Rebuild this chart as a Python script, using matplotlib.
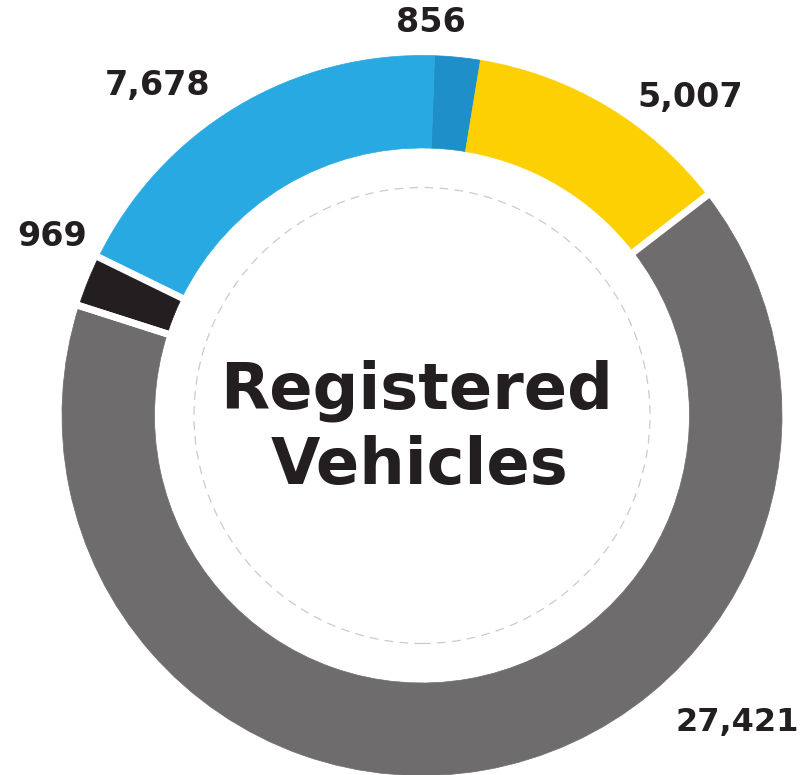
import matplotlib
matplotlib.use("Agg")
import matplotlib.pyplot as plt
from matplotlib.patches import Circle
import numpy as np

# Data (clockwise from top)
labels = ["856", "5,007", "27,421", "969", "7,678"]
values = [856, 5007, 27421, 969, 7678]
colors = ["#1E8FC9", "#FDD003", "#6E6C6D", "#231F20", "#29A9E1"]
title_lines = ["Registered", "Vehicles"]

W, H, DPI = 807, 775, 100
fig = plt.figure(figsize=(W / DPI, H / DPI), dpi=DPI)
ax = fig.add_axes([0, 0, 1, 1])

# pixel geometry of the ring
cx, cy, R = 422, 415.5, 360.0
ring_w = 1 - 267.5 / R

wedges, _ = ax.pie(values, colors=colors, startangle=88, counterclock=False,
                   radius=1.0, wedgeprops=dict(width=ring_w, linewidth=0.5))
for w, c in zip(wedges, colors):
    w.set_edgecolor(c)

# white radial separators around the gray and black wedges
for i in (2, 3):
    for th in (wedges[i].theta1, wedges[i].theta2):
        t = np.deg2rad(th)
        r0, r1 = 1 - ring_w - 0.03, 1.03
        ax.plot([r0 * np.cos(t), r1 * np.cos(t)], [r0 * np.sin(t), r1 * np.sin(t)],
                color="white", linewidth=5, solid_capstyle="butt", zorder=5)

# dashed inner circle
ax.add_patch(Circle((0, 0), 228 / R, fill=False, edgecolor="#C9CBCF",
                    linestyle=(0, (7, 5)), linewidth=0.9, zorder=6))

ax.set_aspect("equal")
ax.set_xlim(-cx / R, (W - cx) / R)
ax.set_ylim(-(H - cy) / R, cy / R)
ax.axis("off")

def px(x, y):
    return ((x - cx) / R, (cy - y) / R)

txt = "#231F20"
font = "DejaVu Sans"
label_pos = [(431, 22, "center"), (690, 97, "center"), (799, 722, "right"),
             (52, 236, "center"), (158, 86, "center")]
label_size = [24, 24, 23, 24, 24]
for lab, (x, y, ha), fs in zip(labels, label_pos, label_size):
    ax.text(*px(x, y), lab, ha=ha, va="center", fontsize=fs,
            fontweight="bold", color=txt, family=font, zorder=10)

ax.text(*px(417, 391), title_lines[0], ha="center", va="center", fontsize=46,
        fontweight="bold", color=txt, family=font, zorder=10)
ax.text(*px(420, 466), title_lines[1], ha="center", va="center", fontsize=46,
        fontweight="bold", color=txt, family=font, zorder=10)

fig.savefig("out.png", dpi=DPI)
